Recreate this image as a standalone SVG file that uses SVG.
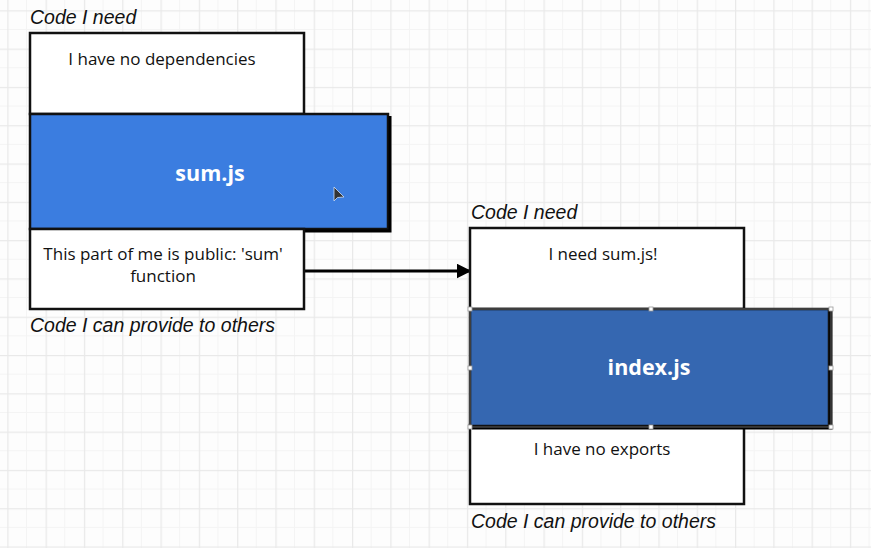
<svg xmlns="http://www.w3.org/2000/svg" width="871" height="548" viewBox="0 0 871 548">
<defs>
<pattern id="grid" x="7.3" y="10.3" width="38.3" height="38.3" patternUnits="userSpaceOnUse">
<path d="M19.15 0V38.3M0 19.15H38.3" stroke="#f4f4f4" stroke-width="1" fill="none"/>
<path d="M0.5 0V38.3M0 0.5H38.3" stroke="#e9e9e9" stroke-width="1.5" fill="none"/>
</pattern>
<marker id="arrow" viewBox="0 0 10 10" refX="9" refY="5" markerWidth="5" markerHeight="5" orient="auto" markerUnits="strokeWidth">
<path d="M0 0L10 5L0 10z" fill="#000"/>
</marker>
<style>
.box{fill:#fff;stroke:#111;stroke-width:2.5}
.mod{stroke:#111;stroke-width:2.5}
.shadow{stroke:#000;stroke-width:3;fill:none}
.label{font-family:"Liberation Sans",Arial,sans-serif;font-style:italic;font-size:19.5px;fill:#111}
.txt{font-family:"Open Sans","Noto Sans",sans-serif;font-size:17px;fill:#111;text-anchor:middle}
.title{font-family:"Open Sans","Noto Sans",sans-serif;font-size:21.5px;font-weight:bold;fill:#fff;text-anchor:middle}
.handle{fill:#fff;stroke:#999;stroke-width:0.8}
</style>
</defs>
<rect width="871" height="548" fill="#fdfdfd"/>
<rect width="871" height="548" fill="url(#grid)"/>

<g id="connectors">
<line x1="304" y1="271" x2="470" y2="271" stroke="#000" stroke-width="3" marker-end="url(#arrow)"/>
</g>

<g id="sum-module">
<text class="label" x="30" y="24">Code I need</text>
<g id="sum-needs">
<rect class="box" x="30" y="33" width="274" height="81"/>
<text class="txt" x="162" y="65">I have no dependencies</text>
</g>
<g id="sum-js">
<rect class="mod" x="30" y="114" width="358" height="115" fill="#3b7de0"/>
<path class="shadow" d="M390 116V231H32"/>
<text class="title" x="210" y="181">sum.js</text>
<path d="M334 187L334 201L337.5 197.5L344 197Z" fill="#333" stroke="#cfe0f7" stroke-width="0.8"/>
</g>
<g id="sum-provides">
<rect class="box" x="30" y="229" width="274" height="80"/>
<text class="txt" x="163" y="260">This part of me is public: 'sum'</text>
<text class="txt" x="163" y="282">function</text>
</g>
<text class="label" x="30" y="332">Code I can provide to others</text>
</g>

<g id="index-module">
<text class="label" x="471" y="219">Code I need</text>
<g id="index-needs">
<rect class="box" x="470" y="228" width="274" height="81"/>
<text class="txt" x="603" y="260">I need sum.js!</text>
</g>
<g id="index-provides">
<rect class="box" x="470" y="425" width="274" height="79"/>
<text class="txt" x="602" y="455">I have no exports</text>
</g>
<g id="index-js">
<rect class="mod" x="470" y="309" width="359" height="117" fill="#3567b1"/>
<path class="shadow" d="M831 311V428H472"/>
<text class="title" x="649" y="375">index.js</text>
<rect x="470" y="309" width="361" height="118" fill="none" stroke="#aaa" stroke-width="0.6"/>
<rect class="handle" x="468" y="307" width="4" height="4"/>
<rect class="handle" x="649" y="307" width="4" height="4"/>
<rect class="handle" x="829" y="307" width="4" height="4"/>
<rect class="handle" x="468" y="366" width="4" height="4"/>
<rect class="handle" x="829" y="366" width="4" height="4"/>
<rect class="handle" x="468" y="425" width="4" height="4"/>
<rect class="handle" x="649" y="425" width="4" height="4"/>
<rect class="handle" x="829" y="425" width="4" height="4"/>
</g>
<text class="label" x="471" y="528">Code I can provide to others</text>
</g>
</svg>
